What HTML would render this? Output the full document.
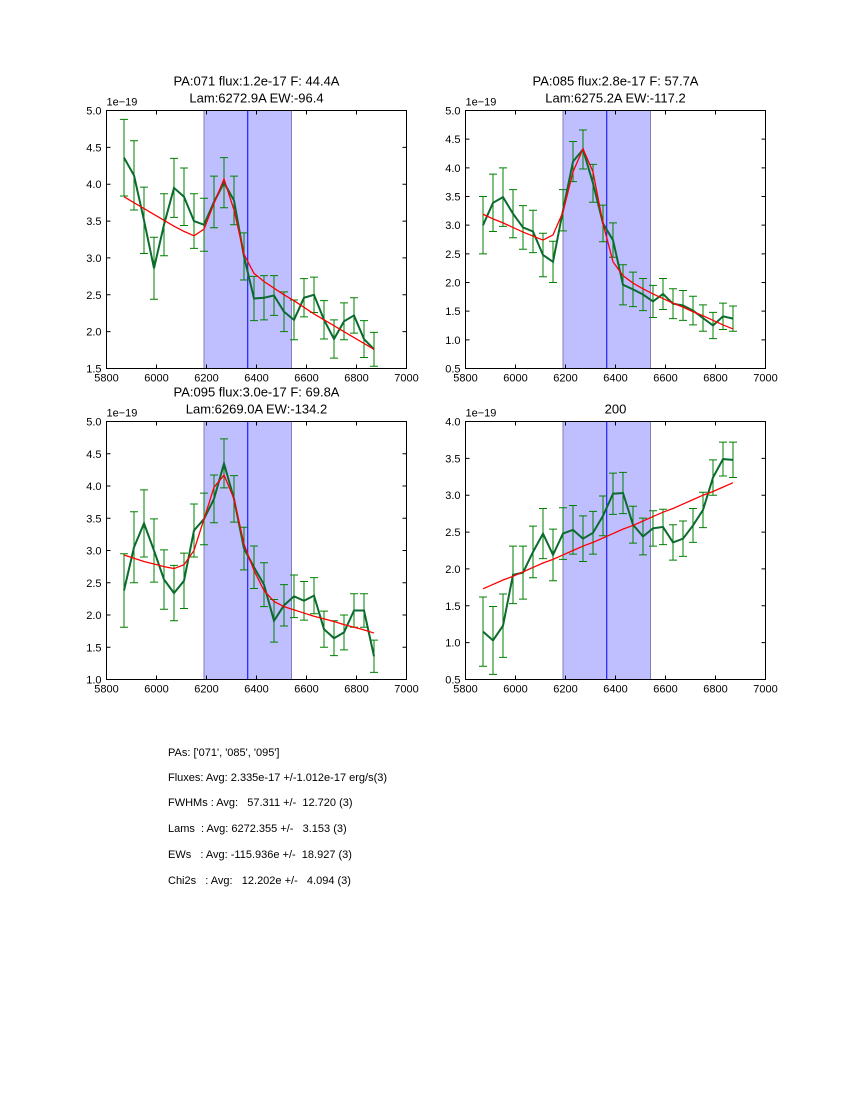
<!DOCTYPE html>
<html><head><meta charset="utf-8"><style>
body{margin:0;background:#fff;}
svg text{font-family:"Liberation Sans","DejaVu Sans",sans-serif;}
.info{position:absolute;left:168px;font:11px "Liberation Sans","DejaVu Sans",sans-serif;color:#000;white-space:pre;}
</style></head><body>
<div style="position:relative;width:850px;height:1100px;">
<svg id="fig" width="850" height="1100" style="position:absolute;left:0;top:0"></svg>
<div class="info" style="top:747px">PAs: ['071', '085', '095']</div>
<div class="info" style="top:772px">Fluxes: Avg: 2.335e-17 +/-1.012e-17 erg/s(3)</div>
<div class="info" style="top:797px">FWHMs : Avg:   57.311 +/-  12.720 (3)</div>
<div class="info" style="top:823px">Lams  : Avg: 6272.355 +/-   3.153 (3)</div>
<div class="info" style="top:849px">EWs   : Avg: -115.936e +/-  18.927 (3)</div>
<div class="info" style="top:875px">Chi2s   : Avg:   12.202e +/-   4.094 (3)</div>
</div>
<script>
const wavelengths=[5870,5910,5950,5990,6030,6070,6110,6150,6190,6230,6270,6310,6350,6390,6430,6470,6510,6550,6590,6630,6670,6710,6750,6790,6830,6870];
const xTicks=[5800,6000,6200,6400,6600,6800,7000];
const bandRange=[6190,6540];
const centerLine=[6365];
const p1Flux=[4.36,4.12,3.51,2.86,3.45,3.95,3.83,3.5,3.45,3.76,4.02,3.78,3.02,2.45,2.46,2.49,2.27,2.16,2.46,2.5,2.16,1.9,2.14,2.22,1.9,1.76];
const p1Err=[0.52,0.47,0.45,0.42,0.42,0.4,0.39,0.37,0.36,0.35,0.34,0.33,0.32,0.3,0.3,0.27,0.27,0.27,0.26,0.24,0.26,0.26,0.25,0.24,0.25,0.23];
const p1Fit=[3.83,3.75,3.67,3.59,3.51,3.43,3.36,3.3,3.39,3.74,4.07,3.65,3.05,2.79,2.68,2.59,2.5,2.42,2.33,2.24,2.16,2.08,2.0,1.92,1.84,1.76];
const p2Flux=[3.0,3.39,3.49,3.2,2.96,2.89,2.48,2.36,3.26,4.11,4.32,3.73,3.03,2.74,1.96,1.88,1.79,1.67,1.8,1.63,1.6,1.51,1.38,1.25,1.41,1.37];
const p2Err=[0.5,0.5,0.51,0.42,0.38,0.37,0.38,0.36,0.36,0.35,0.34,0.33,0.32,0.3,0.35,0.3,0.28,0.28,0.27,0.26,0.26,0.25,0.23,0.23,0.23,0.22];
const p2Fit=[3.19,3.11,3.04,2.96,2.88,2.81,2.74,2.83,3.23,3.93,4.33,3.93,3.03,2.36,2.12,1.99,1.89,1.8,1.72,1.64,1.57,1.49,1.42,1.34,1.26,1.19];
const p3Flux=[2.38,3.05,3.42,3.0,2.55,2.34,2.53,3.31,3.49,3.8,4.35,3.8,3.03,2.74,2.47,1.91,2.15,2.29,2.22,2.3,1.78,1.64,1.73,2.07,2.07,1.36];
const p3Err=[0.57,0.55,0.52,0.49,0.46,0.43,0.43,0.41,0.4,0.37,0.38,0.36,0.33,0.33,0.34,0.33,0.32,0.33,0.3,0.28,0.28,0.27,0.27,0.26,0.26,0.25];
const p3Fit=[2.93,2.88,2.83,2.79,2.75,2.72,2.78,3.0,3.49,3.98,4.17,3.8,3.1,2.69,2.38,2.21,2.13,2.08,2.03,1.98,1.94,1.9,1.85,1.81,1.77,1.72];
const p4Flux=[1.15,1.03,1.23,1.92,1.95,2.23,2.48,2.19,2.48,2.53,2.41,2.49,2.72,3.02,3.03,2.6,2.44,2.55,2.57,2.36,2.41,2.59,2.8,3.24,3.49,3.48];
const p4Err=[0.47,0.46,0.43,0.39,0.36,0.35,0.34,0.35,0.35,0.33,0.31,0.29,0.27,0.28,0.28,0.25,0.25,0.24,0.24,0.24,0.24,0.23,0.24,0.24,0.23,0.24];
const p4Fit=[1.73,1.79,1.85,1.9,1.96,2.02,2.08,2.13,2.19,2.25,2.31,2.36,2.42,2.48,2.54,2.59,2.65,2.71,2.77,2.82,2.88,2.94,3.0,3.05,3.11,3.17];
const p1Ticks=["1.5","2.0","2.5","3.0","3.5","4.0","4.5","5.0"];
const p2Ticks=["0.5","1.0","1.5","2.0","2.5","3.0","3.5","4.0","4.5","5.0"];
const p3Ticks=["1.0","1.5","2.0","2.5","3.0","3.5","4.0","4.5","5.0"];
const p4Ticks=["0.5","1.0","1.5","2.0","2.5","3.0","3.5","4.0"];

const NS="http://www.w3.org/2000/svg";
const svg=document.getElementById('fig');
function mk(tag,attrs,parent,text){const e=document.createElementNS(NS,tag);for(const k in attrs)e.setAttribute(k,attrs[k]);if(text!==undefined)e.textContent=text;(parent||svg).appendChild(e);return e;}

function panel(name,L,T,titles,yTicks,flux,err,fit){
  const W=300,H=258;
  const ymin=parseFloat(yTicks[0]),ymax=parseFloat(yTicks[yTicks.length-1]);
  const sx=v=>L+(v-5800)/1200*W;
  const sy=v=>T+(ymax-v)/(ymax-ymin)*H;
  const g=mk('g',{});
  
  
  const band=mk('rect',{x:sx(bandRange[0]),y:T,width:sx(bandRange[1])-sx(bandRange[0]),height:H,fill:'#bfbfff',stroke:'#7f7fbf','stroke-width':1},g);
  
  
  const cl=mk('line',{x1:sx(centerLine[0]),x2:sx(centerLine[0]),y1:T,y2:T+H,stroke:'#0000ff','stroke-width':1},g);
  
  
  wavelengths.forEach((w,i)=>{
    const x=sx(w),y1=sy(flux[i]-err[i]),y2=sy(flux[i]+err[i]);
    const eb=mk('path',{d:`M${x},${y1}V${y2}M${x-4},${y1}H${x+4}M${x-4},${y2}H${x+4}`,stroke:'#008000','stroke-width':1,fill:'none'},g);
    
    
  });
  const fl=mk('polyline',{points:wavelengths.map((w,i)=>sx(w)+','+sy(flux[i])).join(' '),fill:'none',stroke:'#0b6b2e','stroke-width':2},g);
  
  
  const ft=mk('polyline',{points:wavelengths.map((w,i)=>sx(w)+','+sy(fit[i])).join(' '),fill:'none',stroke:'#ff0000','stroke-width':1.3},g);
  
  
  xTicks.forEach(t=>{
    const x=sx(t);
    mk('path',{d:`M${x},${T+H}v-4M${x},${T}v4`,stroke:'#000','stroke-width':1},g);
    const tl=mk('text',{x:x,y:T+H+13,'font-size':11,'text-anchor':'middle'},g,String(t));
    
    
  });
  yTicks.forEach(t=>{
    const y=sy(parseFloat(t));
    mk('path',{d:`M${L},${y}h4M${L+W},${y}h-4`,stroke:'#000','stroke-width':1},g);
    const tl=mk('text',{x:L-5,y:y+4,'font-size':11,'text-anchor':'end'},g,t);
    
    
  });
  const fr=mk('rect',{x:L,y:T,width:W,height:H,fill:'none',stroke:'#000','stroke-width':1},g);
  
  
  const ex=mk('text',{x:L,y:T-5,'font-size':11},g,'1e\u221219');
  
  
  titles.forEach((s,i)=>{
    const tt=mk('text',{x:L+W/2,y:T-25+17*i+(titles.length===1?17:0),'font-size':13,'text-anchor':'middle'},g,s);
    
    
  });
}
panel('panel-pa071',106.5,110.5,['PA:071 flux:1.2e-17 F: 44.4A','Lam:6272.9A EW:-96.4'],p1Ticks,p1Flux,p1Err,p1Fit);
panel('panel-pa085',465.5,110.5,['PA:085 flux:2.8e-17 F: 57.7A','Lam:6275.2A EW:-117.2'],p2Ticks,p2Flux,p2Err,p2Fit);
panel('panel-pa095',106.5,421.5,['PA:095 flux:3.0e-17 F: 69.8A','Lam:6269.0A EW:-134.2'],p3Ticks,p3Flux,p3Err,p3Fit);
panel('panel-200',465.5,421.5,['200'],p4Ticks,p4Flux,p4Err,p4Fit);
</script>
</body></html>
